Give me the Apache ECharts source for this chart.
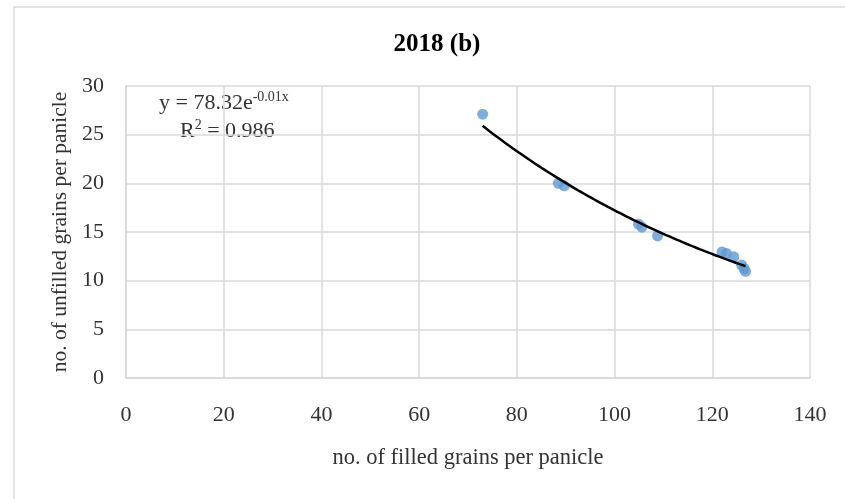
<!DOCTYPE html>
<html>
<head>
<meta charset="utf-8">
<script src="https://cdn.jsdelivr.net/npm/echarts@6/dist/echarts.min.js"></script>
<style>
html,body{margin:0;padding:0;background:#fff;}
#chart{width:845px;height:499px;}
</style>
</head>
<body>
<div id="chart"></div>
<script>
// filled grains (x) vs unfilled grains (y), 2018
var filledGrains = [73, 88.5, 89.7, 104.9, 105.6, 108.8, 122.0, 122.9, 124.4, 126.0, 126.5, 126.8];
var unfilledGrains = [27.1, 20.0, 19.75, 15.8, 15.5, 14.6, 12.95, 12.8, 12.45, 11.6, 11.25, 10.95];
var xTicks = [0, 20, 40, 60, 80, 100, 120, 140];
var yTicks = [0, 5, 10, 15, 20, 25, 30];

var font = 'Liberation Serif';

/* exponential trendline: least squares on ln(y) */
function expFit(xs, ys) {
    var n = xs.length, sx = 0, sy = 0, sxx = 0, sxy = 0, i;
    for (i = 0; i < n; i++) {
        var ly = Math.log(ys[i]);
        sx += xs[i]; sy += ly; sxx += xs[i] * xs[i]; sxy += xs[i] * ly;
    }
    var b = (n * sxy - sx * sy) / (n * sxx - sx * sx);
    var a = Math.exp((sy - b * sx) / n);
    return {a: a, b: b};
}
var fit = expFit(filledGrains, unfilledGrains);
var xMin = Math.min.apply(null, filledGrains), xMax = Math.max.apply(null, filledGrains);
var trendData = [];
for (var k = 0; k <= 40; k++) {
    var xv = xMin + (xMax - xMin) * k / 40;
    trendData.push([xv, fit.a * Math.exp(fit.b * xv)]);
}

var scatterData = filledGrains.map(function (x, i) { return [x, unfilledGrains[i]]; });

var chart = echarts.init(document.getElementById('chart'));
var option = {
    backgroundColor: '#fff',
    animation: false,
    title: {
        text: '2018 (b)',
        left: 432,
        top: 27,
        textAlign: 'center',
        textStyle: {fontFamily: font, fontSize: 25, fontWeight: 'bold', color: '#000'}
    },
    grid: {left: 126, right: 35, top: 86, bottom: 121},
    xAxis: {
        type: 'value',
        min: xTicks[0],
        max: xTicks[xTicks.length - 1],
        interval: 20,
        name: 'no. of filled grains per panicle',
        nameLocation: 'middle',
        nameGap: 69,
        nameTextStyle: {fontFamily: font, fontSize: 22.5, color: '#333'},
        axisLine: {lineStyle: {color: '#d9d9d9', width: 1.5}},
        axisTick: {show: false},
        axisLabel: {fontFamily: font, fontSize: 22, color: '#333', margin: 26},
        splitLine: {lineStyle: {color: '#d9d9d9', width: 1.5}}
    },
    yAxis: {
        type: 'value',
        min: yTicks[0],
        max: yTicks[yTicks.length - 1],
        interval: 5,
        name: 'no. of unfilled grains per panicle',
        nameLocation: 'middle',
        nameGap: 55,
        nameTextStyle: {fontFamily: font, fontSize: 21.5, color: '#333'},
        axisLine: {show: true, lineStyle: {color: '#d9d9d9', width: 1.5}},
        axisTick: {show: false},
        axisLabel: {fontFamily: font, fontSize: 22, color: '#333', margin: 22},
        splitLine: {lineStyle: {color: '#d9d9d9', width: 1.5}}
    },
    graphic: [
        {
            type: 'rect',
            shape: {x: 14, y: 7, width: 900, height: 600},
            style: {fill: 'none', stroke: '#d9d9d9', lineWidth: 1.5},
            silent: true
        },
        {
            type: 'text',
            left: 159,
            top: 90,
            style: {
                rich: {
                    t: {fontFamily: font, fontSize: 22, fill: '#333'},
                    s: {fontFamily: font, fontSize: 14, fill: '#333', padding: [0, 0, 12, 0]}
                },
                text: '{t|y = 78.32e}{s|-0.01x}'
            }
        },
        {
            type: 'text',
            left: 180,
            top: 118,
            style: {
                rich: {
                    t: {fontFamily: font, fontSize: 22, fill: '#333'},
                    s: {fontFamily: font, fontSize: 14, fill: '#333', padding: [0, 0, 12, 0]}
                },
                text: '{t|R}{s|2}{t| = 0.986}'
            }
        }
    ],
    series: [
        {
            type: 'scatter',
            data: scatterData,
            symbolSize: 11,
            itemStyle: {color: '#5B9BD5'},
            z: 3
        },
        {
            type: 'line',
            data: trendData,
            showSymbol: false,
            smooth: true,
            lineStyle: {color: '#000', width: 2.5},
            z: 4
        }
    ]
};
chart.setOption(option);
</script>
</body>
</html>
